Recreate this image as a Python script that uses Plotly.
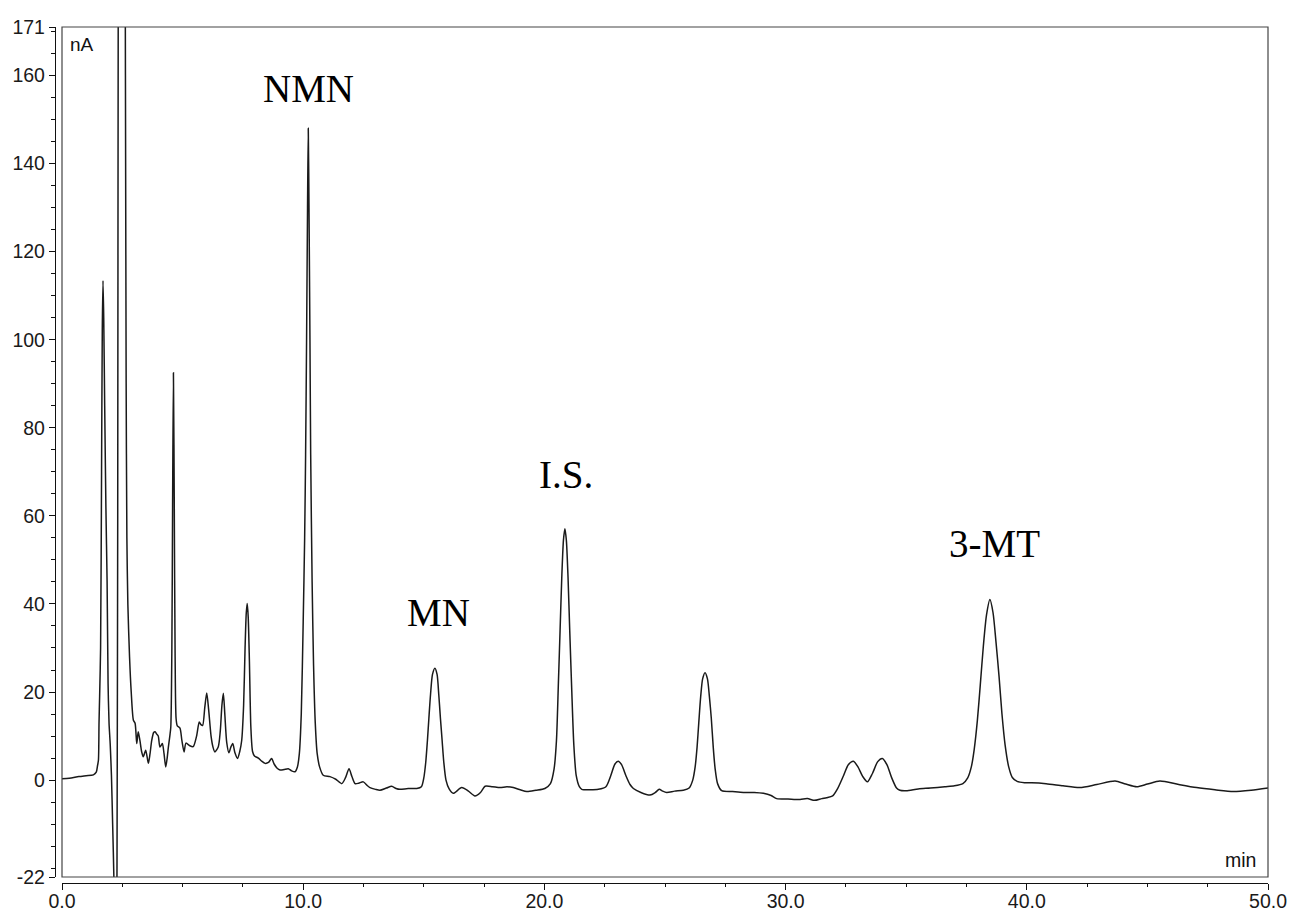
import plotly.graph_objects as go

# Chromatogram: retention time (min) vs detector current (nA)
time_min = [
    0.00, 0.30, 0.70, 1.00, 1.30, 1.42, 1.47, 1.51, 1.535, 1.56, 1.60, 1.64, 1.67, 1.70, 1.73,
    1.77, 1.82, 1.87, 1.91, 1.95, 2.00, 2.05, 2.10, 2.15, 2.20, 2.25, 2.28, 2.31, 2.34, 2.42,
    2.52, 2.59, 2.63, 2.66, 2.69, 2.73, 2.80, 2.87, 2.96, 3.03, 3.10, 3.16, 3.23, 3.30, 3.37,
    3.47, 3.58, 3.65, 3.72, 3.80, 3.86, 3.92, 3.99, 4.06, 4.16, 4.23, 4.30, 4.36, 4.41, 4.47,
    4.51, 4.555, 4.585, 4.62, 4.655, 4.69, 4.73, 4.78, 4.89, 4.97, 5.06, 5.14, 5.30, 5.44, 5.58,
    5.69, 5.76, 5.83, 5.92, 6.00, 6.08, 6.18, 6.26, 6.34, 6.48, 6.56, 6.63, 6.69, 6.75, 6.83,
    6.92, 7.00, 7.08, 7.17, 7.28, 7.37, 7.45, 7.53, 7.59, 7.64, 7.68, 7.72, 7.77, 7.83, 7.90,
    7.98, 8.14, 8.28, 8.42, 8.56, 8.69, 8.80, 8.92, 9.04, 9.20, 9.38, 9.52, 9.66, 9.76, 9.84,
    9.92, 10.00, 10.06, 10.10, 10.14, 10.18, 10.21, 10.24, 10.28, 10.31, 10.37, 10.43, 10.50, 10.58, 10.68,
    10.83, 11.11, 11.35, 11.60, 11.75, 11.90, 12.02, 12.15, 12.30, 12.49, 12.65, 12.77, 13.00, 13.18, 13.45,
    13.67, 13.85, 14.01, 14.35, 14.71, 14.90, 15.00, 15.08, 15.15, 15.21, 15.28, 15.36, 15.46, 15.55, 15.62,
    15.69, 15.76, 15.83, 15.92, 16.05, 16.22, 16.57, 16.85, 17.12, 17.35, 17.54, 17.85, 18.16, 18.45, 18.71,
    19.00, 19.27, 19.65, 20.02, 20.25, 20.40, 20.50, 20.58, 20.65, 20.72, 20.79, 20.85, 20.91, 20.98, 21.05,
    21.13, 21.22, 21.32, 21.45, 21.55, 21.90, 22.24, 22.55, 22.75, 22.92, 23.06, 23.20, 23.38, 23.55, 23.69,
    24.00, 24.38, 24.60, 24.76, 24.90, 25.07, 25.40, 25.76, 26.00, 26.15, 26.25, 26.33, 26.40, 26.48, 26.56,
    26.66, 26.76, 26.84, 26.92, 27.00, 27.08, 27.18, 27.35, 27.80, 28.25, 28.70, 29.08, 29.40, 29.63, 30.10,
    30.60, 30.90, 31.20, 31.50, 31.70, 31.95, 32.15, 32.40, 32.60, 32.81, 33.00, 33.20, 33.39, 33.60, 33.82,
    34.01, 34.20, 34.40, 34.60, 34.74, 35.00, 35.50, 36.00, 36.60, 37.00, 37.35, 37.55, 37.70, 37.82, 37.95,
    38.07, 38.20, 38.33, 38.47, 38.60, 38.72, 38.85, 38.97, 39.10, 39.25, 39.40, 39.60, 39.90, 40.20, 40.80,
    41.50, 42.20, 42.90, 43.66, 44.10, 44.56, 45.00, 45.52, 46.30, 47.04, 47.80, 48.56, 49.30, 50.00,
]
signal_na = [
    0.3, 0.4, 0.8, 1.0, 1.2, 1.8, 3.2, 4.5, 13.0, 19.0, 30.0, 70.0, 102.0, 113.4, 105.0,
    85.0, 62.0, 45.0, 22.0, 13.0, 8.0, 1.0, -10.0, -22.0, -45.0, -50.0, -20.0, 60.0, 220.0, 380.0,
    380.0, 260.0, 160.0, 90.0, 55.0, 40.0, 28.0, 20.0, 13.6, 12.9, 8.3, 11.0, 9.0, 6.5, 5.3,
    6.8, 3.8, 6.0, 9.0, 10.8, 11.0, 10.5, 10.0, 7.5, 8.3, 6.0, 3.0, 5.0, 7.5, 10.0,
    12.0, 30.0, 62.0, 92.5, 62.0, 28.0, 14.0, 12.3, 11.8, 9.0, 6.4, 8.4, 7.8, 7.6, 10.0,
    13.2, 12.6, 12.4, 16.5, 19.8, 16.0, 10.0, 7.5, 6.4, 7.6, 11.0, 17.0, 19.7, 15.0, 8.5,
    6.2, 7.5, 8.3, 6.2, 4.9, 6.5, 9.0, 17.0, 30.0, 38.0, 40.1, 37.0, 27.0, 12.0, 6.5,
    5.5, 5.0, 4.3, 3.8, 4.0, 4.9, 3.6, 2.7, 2.3, 2.4, 2.6, 2.1, 1.9, 3.0, 6.0,
    15.0, 36.0, 55.0, 74.0, 100.0, 130.0, 148.0, 130.0, 100.0, 74.0, 45.0, 26.0, 13.0, 6.0, 3.0,
    1.1, 0.8, 0.2, -0.8, 0.5, 2.6, 0.8, -0.8, -0.7, -0.4, -1.2, -1.7, -2.1, -2.3, -1.8,
    -1.4, -1.9, -2.1, -1.9, -1.9, -1.5, 0.5, 4.0, 9.0, 14.0, 19.5, 24.0, 25.4, 24.0, 19.5,
    14.0, 9.0, 4.0, 0.0, -2.0, -3.0, -1.7, -2.5, -3.6, -2.8, -1.4, -1.5, -1.7, -1.5, -1.7,
    -2.2, -2.6, -2.3, -1.9, -0.8, 2.5, 9.0, 22.0, 34.0, 46.0, 54.5, 57.1, 54.5, 46.0, 34.0,
    21.0, 8.0, 1.0, -1.5, -2.1, -2.2, -2.1, -1.5, 1.0, 3.6, 4.3, 3.5, 1.0, -1.0, -1.9,
    -2.8, -3.4, -2.8, -2.1, -2.5, -2.8, -2.5, -2.3, -1.8, 0.0, 3.0, 7.5, 13.0, 19.0, 23.0,
    24.4, 23.0, 19.0, 14.0, 7.5, 2.5, -0.8, -2.4, -2.6, -2.8, -2.8, -3.0, -3.5, -4.2, -4.3,
    -4.4, -4.2, -4.6, -4.2, -4.0, -3.6, -2.0, 1.0, 3.5, 4.3, 3.0, 0.8, -0.4, 1.5, 4.2,
    4.9, 3.5, 0.5, -1.8, -2.3, -2.4, -2.0, -1.8, -1.5, -1.3, -0.8, 0.5, 3.0, 7.0, 13.5,
    21.5, 30.5, 37.5, 41.0, 38.0, 31.5, 23.5, 15.0, 8.0, 3.0, 0.6, -0.3, -0.6, -0.6, -0.8,
    -1.3, -1.7, -1.0, -0.2, -0.9, -1.5, -0.9, -0.2, -1.0, -1.7, -2.2, -2.6, -2.3, -1.8,
]

# Peak labels: name, retention time, label height
peak_names = ["NMN", "MN", "I.S.", "3-MT"]
peak_label_t = [10.2, 15.59, 20.9, 38.68]
peak_label_y = [157.0, 38.1, 69.5, 53.7]

y_ticks = [-22, 0, 20, 40, 60, 80, 100, 120, 140, 160, 171]
y_minor = [v for v in range(-20, 171, 5)]
x_ticks = [0, 10, 20, 30, 40, 50]
x_tick_text = ["0.0", "10.0", "20.0", "30.0", "40.0", "50.0"]

W, H = 1291, 911
ML, MR, MT, MB = 0, 23, 27, 0
area_w = W - ML - MR
area_h = H - MT - MB

fig = go.Figure()
fig.add_trace(go.Scatter(
    x=time_min, y=signal_na, mode="lines",
    line=dict(color="#1a1a1a", width=1.5, shape="spline", smoothing=0.7),
    showlegend=False, hoverinfo="skip",
))

tick_font = dict(family="Liberation Sans, Arial, sans-serif", size=19.5, color="#1a1a1a")

fig.update_layout(
    width=W, height=H,
    margin=dict(l=ML, r=MR, t=MT, b=MB, autoexpand=False),
    paper_bgcolor="white", plot_bgcolor="white",
    xaxis=dict(
        domain=[62 / area_w, 1.0],
        range=[0, 50], automargin=False,
        anchor="free", position=(H - MB - 883) / area_h,
        showgrid=False, zeroline=False,
        showline=True, linecolor="#111", linewidth=1.3,
        ticks="outside", ticklen=6, tickwidth=1.2, tickcolor="#111",
        tickvals=x_ticks, ticktext=x_tick_text, tickfont=tick_font,
        ticklabelstandoff=-6,
        minor=dict(dtick=2.5, tick0=0, ticks="outside", ticklen=3, tickwidth=1.2, tickcolor="#111"),
    ),
    yaxis=dict(
        domain=[(H - MB - 877) / area_h, 1.0],
        range=[-22, 171], automargin=False,
        anchor="free", position=55 / area_w,
        showgrid=False, zeroline=False,
        showline=True, linecolor="#111", linewidth=1.3,
        ticks="outside", ticklen=6, tickwidth=1.2, tickcolor="#111",
        tickvals=y_ticks, ticktext=[str(v) for v in y_ticks], tickfont=tick_font,
        minor=dict(tickvals=y_minor, ticks="outside", ticklen=4, tickwidth=1.2, tickcolor="#111"),
    ),
    shapes=[dict(
        type="rect", xref="x domain", yref="y domain", x0=0, x1=1, y0=0, y1=1,
        line=dict(color="#444", width=1.2), layer="above",
    )],
)

annotations = [
    dict(text="nA", xref="x domain", yref="y domain", x=0.005, y=0.979,
         xanchor="left", yanchor="middle", showarrow=False,
         font=dict(family="Liberation Sans, Arial, sans-serif", size=19, color="#111")),
    dict(text="min", xref="x domain", yref="y domain", x=0.9917, y=0.02,
         xanchor="right", yanchor="middle", showarrow=False,
         font=dict(family="Liberation Sans, Arial, sans-serif", size=19.5, color="#111")),
]
for name, t, yv in zip(peak_names, peak_label_t, peak_label_y):
    annotations.append(dict(
        text=name, x=t, y=yv, xref="x", yref="y", showarrow=False,
        xanchor="center", yanchor="middle",
        font=dict(family="Liberation Serif, Times New Roman, serif", size=39, color="#000"),
    ))
fig.update_layout(annotations=annotations)

fig.write_html("out.html")
